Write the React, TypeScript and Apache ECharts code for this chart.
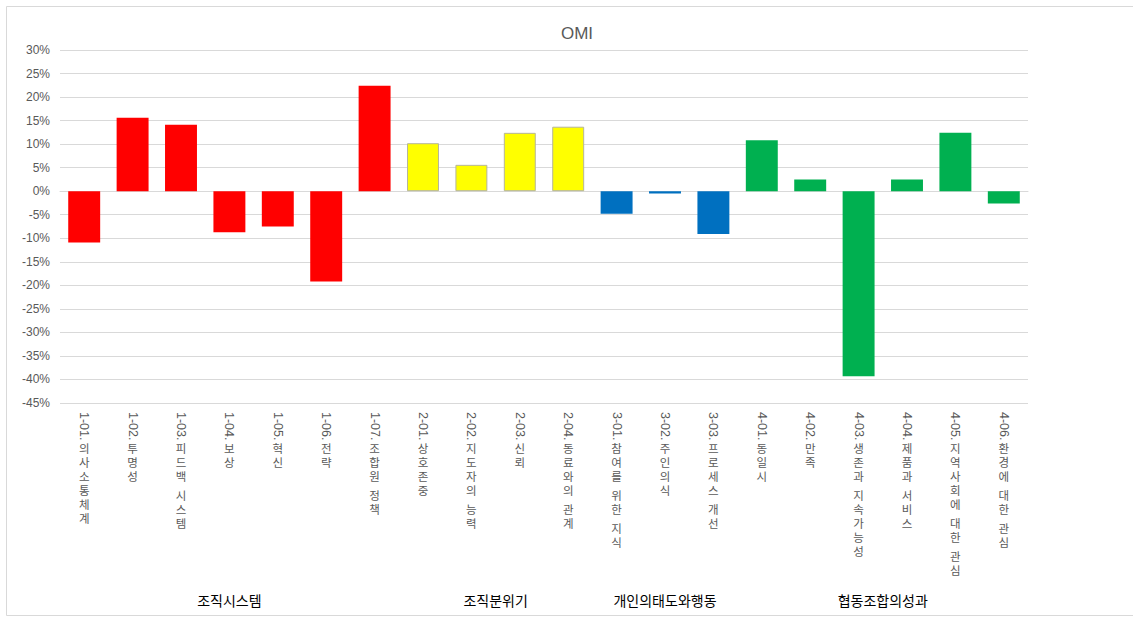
import React, { useEffect, useRef } from "react";
import * as echarts from "echarts";

const categories = [
  "1-01. 의사소통체계",
  "1-02. 투명성",
  "1-03. 피드백 시스템",
  "1-04. 보상",
  "1-05. 혁신",
  "1-06. 전략",
  "1-07. 조합원 정책",
  "2-01. 상호존중",
  "2-02. 지도자의 능력",
  "2-03. 신뢰",
  "2-04. 동료와의 관계",
  "3-01. 참여를 위한 지식",
  "3-02. 주인의식",
  "3-03. 프로세스 개선",
  "4-01. 동일시",
  "4-02. 만족",
  "4-03. 생존과 지속가능성",
  "4-04. 제품과 서비스",
  "4-05. 지역사회에 대한 관심",
  "4-06. 환경에 대한 관심",
];

const values = [
  -10.9, 15.6, 14.1, -8.7, -7.5, -19.2, 22.4,
  10.2, 5.6, 12.4, 13.7,
  -4.8, -0.5, -9.1,
  10.8, 2.5, -39.3, 2.5, 12.4, -2.6,
];

const groupNames = ["조직시스템", "조직분위기", "개인의태도와행동", "협동조합의성과"];
const groupSizes = [7, 4, 3, 6];
const groupColors = ["#FF0000", "#FFFF00", "#0070C0", "#00B050"];

const yMin = -45;
const yMax = 30;
const yStep = 5;

const KR = "'Noto Sans CJK KR', 'Noto Sans', sans-serif";
const NUM = "'Liberation Sans', Arial, sans-serif";

function groupOf(i: number): number {
  let acc = 0;
  for (let g = 0; g < groupSizes.length; g++) {
    acc += groupSizes[g];
    if (i < acc) return g;
  }
  return groupSizes.length - 1;
}

export default function App() {
  const ref = useRef<HTMLDivElement>(null);

  useEffect(() => {
    if (!ref.current) return;
    const chart = echarts.init(ref.current, undefined, { renderer: "svg" });

    const data = values.map((v, i) => {
      const g = groupOf(i);
      return {
        value: v,
        itemStyle: {
          color: groupColors[g],
          borderColor: g === 1 ? "#b5b59a" : groupColors[g],
          borderWidth: g === 1 ? 1 : 0,
        },
      };
    });

    const option: any = {
      animation: false,
      backgroundColor: "#ffffff",
      title: {
        text: "OMI",
        left: 572,
        top: 20,
        textAlign: "center",
        textStyle: { color: "#595959", fontSize: 17, fontWeight: "normal", fontFamily: NUM },
      },
      grid: { left: 60, right: 105, top: 50, bottom: 215, containLabel: false },
      xAxis: [
        {
          type: "category",
          data: categories,
          position: "bottom",
          axisLine: { show: true, lineStyle: { color: "#d9d9d9" } },
          axisTick: { show: false },
          axisLabel: {
            interval: 0,
            rotate: -90,
            margin: 9,
            color: "#595959",
            fontSize: 12.5,
            fontFamily: NUM,
            formatter: (val: string) => val.slice(0, val.indexOf(".") + 1),
          },
        },
        {
          type: "category",
          data: categories,
          position: "bottom",
          offset: 30,
          axisLine: { show: false },
          axisTick: { show: false },
          splitLine: { show: false },
          axisLabel: {
            interval: 0,
            margin: 8,
            color: "#595959",
            fontSize: 11.5,
            fontFamily: KR,
            formatter: (val: string) => {
              const rest = val.slice(val.indexOf(".") + 1).trim();
              return rest
                .split("")
                .map((ch) => (ch === " " ? "{sp| }" : "{c|" + ch + "}"))
                .join("\n");
            },
            rich: {
              c: { fontSize: 11.5, lineHeight: 14, color: "#595959", fontFamily: KR },
              sp: { fontSize: 4, lineHeight: 5 },
            },
          },
        },
      ],
      yAxis: {
        type: "value",
        min: yMin,
        max: yMax,
        interval: yStep,
        axisLine: { show: false },
        axisTick: { show: false },
        splitLine: { show: true, lineStyle: { color: "#d9d9d9", width: 1 } },
        axisLabel: {
          formatter: "{value}%",
          color: "#595959",
          fontSize: 12,
          fontFamily: NUM,
          margin: 10,
        },
      },
      series: [
        {
          type: "bar",
          xAxisIndex: 0,
          data,
          barCategoryGap: "34%",
        },
      ],
    };

    chart.setOption(option);

    const graphics: any[] = [
      {
        type: "rect",
        id: "frame",
        shape: { x: 6.5, y: 6.5, width: 1160, height: 609 },
        style: { fill: "none", stroke: "#d9d9d9", lineWidth: 1 },
        silent: true,
        z: -1,
      },
    ];
    let start = 0;
    groupNames.forEach((name, g) => {
      const end = start + groupSizes[g] - 1;
      const x0 = chart.convertToPixel({ xAxisIndex: 0 }, categories[start]) as number;
      const x1 = chart.convertToPixel({ xAxisIndex: 0 }, categories[end]) as number;
      graphics.push({
        type: "text",
        id: "grp" + g,
        x: (x0 + x1) / 2,
        y: 600,
        style: {
          text: name,
          fill: "#000000",
          fontSize: 14,
          fontFamily: KR,
          textAlign: "center",
          textVerticalAlign: "middle",
        },
      });
      start = end + 1;
    });
    chart.setOption({ graphic: graphics });

    return () => {
      chart.dispose();
    };
  }, []);

  return <div ref={ref} style={{ width: 1133, height: 618, position: "absolute", left: 0, top: 0 }} />;
}
